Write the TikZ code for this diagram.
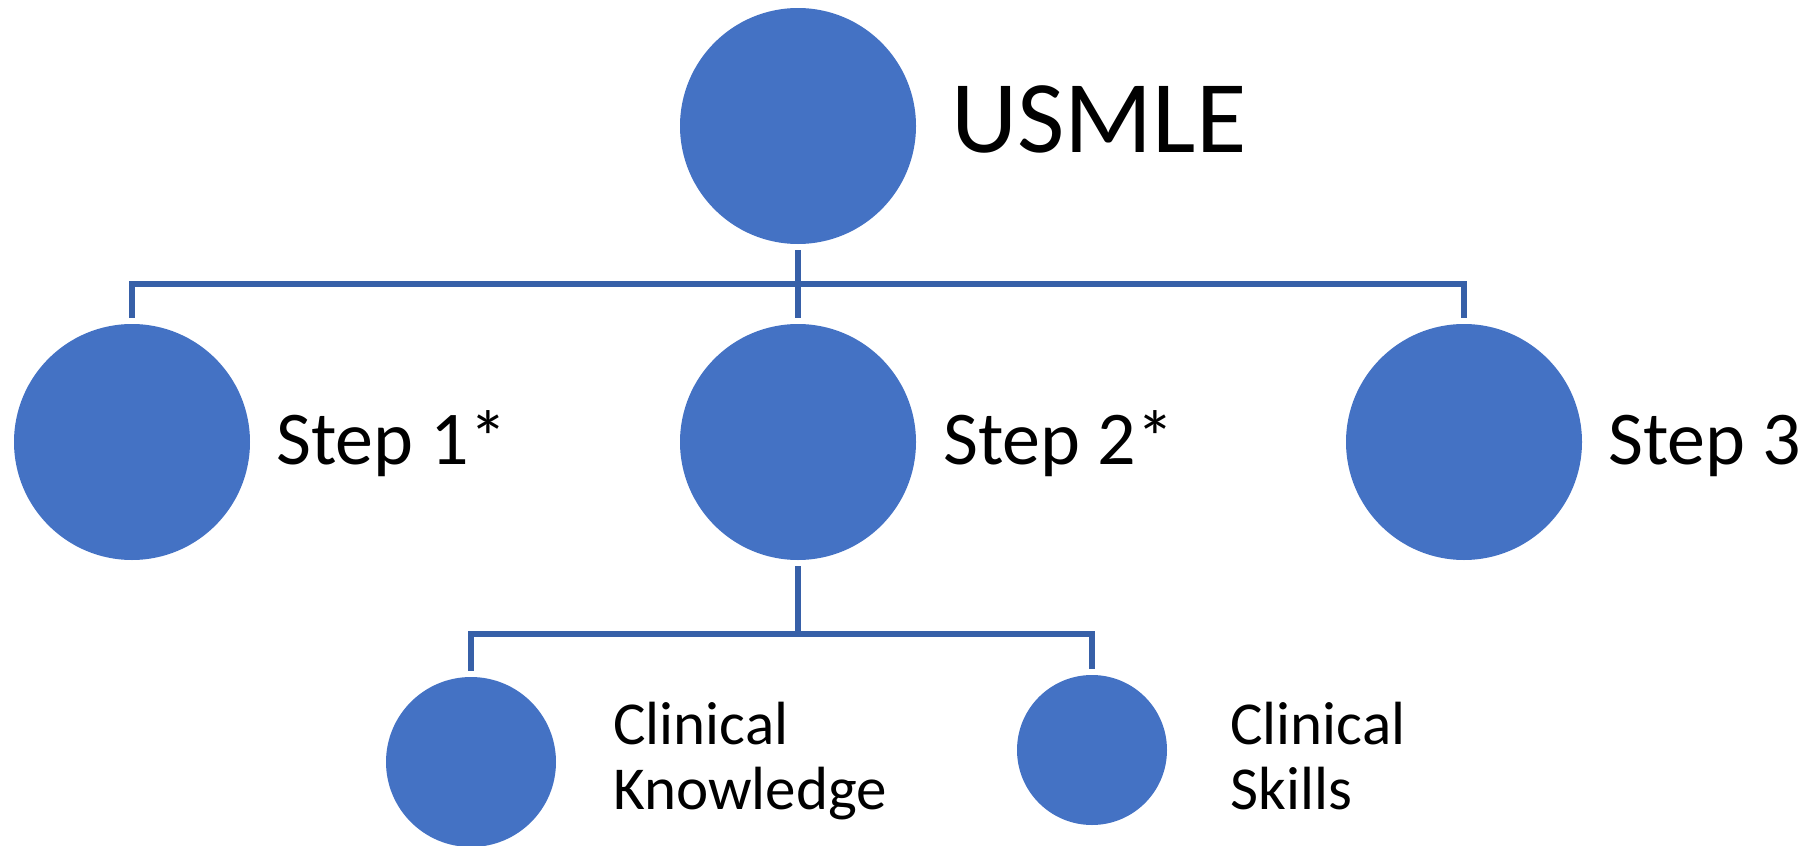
\documentclass[tikz,border=0pt]{standalone}
\usepackage{fontspec}
\setmainfont{Carlito}
\definecolor{nodeblue}{HTML}{4472C4}
\definecolor{linkblue}{HTML}{3760A8}
\tikzset{
  ball/.style={circle, fill=nodeblue, inner sep=0pt, minimum size=#1},
  link/.style={draw=linkblue, line width=2.9pt},
  lbl/.style={anchor=base west, inner sep=0pt, font=\fontsize{38}{46}\selectfont},
  smalllbl/.style={anchor=base west, inner sep=0pt, align=left, font=\fontsize{30.5}{32.5}\selectfont}
}
\begin{document}
\begin{tikzpicture}[x=0.5pt, y=-0.5pt]
\useasboundingbox (0,0) rectangle (1801,846);

% circles
\node[ball=118pt] (usmle) at (798,126) {};
\node[ball=118pt] (stepone) at (132,442) {};
\node[ball=118pt] (steptwo) at (798,442) {};
\node[ball=118pt] (stepthree) at (1464,442) {};
\node[ball=85pt] (ck) at (471,762) {};
\node[ball=75pt] (cs) at (1092,750) {};

% labels
\node[lbl, font=\fontsize{51.5}{60}\selectfont] (usmlelbl) at (951,152) {USMLE};
\node[lbl] (steponelbl) at (276,464) {Step 1*};
\node[lbl] (steptwolbl) at (943,464) {Step 2*};
\node[lbl] (stepthreelbl) at (1608,464) {Step 3};
\node[smalllbl] (cklbl) at (613,809) {Clinical\\Knowledge};
\node[smalllbl] (cslbl) at (1230,809) {Clinical\\Skills};

% connectors
\coordinate (bus) at (798,284);
\coordinate (subbus) at (798,634);
\draw[link] ([yshift=-3pt]usmle.south) -- ([yshift=3pt]steptwo.north);
\draw[link] ([yshift=3pt]stepone.north) |- (bus) -| ([yshift=3pt]stepthree.north);
\draw[link] ([yshift=-3pt]steptwo.south) -- (subbus);
\draw[link] ([yshift=3pt]ck.north) |- (subbus) -| ([yshift=3pt]cs.north);
\end{tikzpicture}
\end{document}
